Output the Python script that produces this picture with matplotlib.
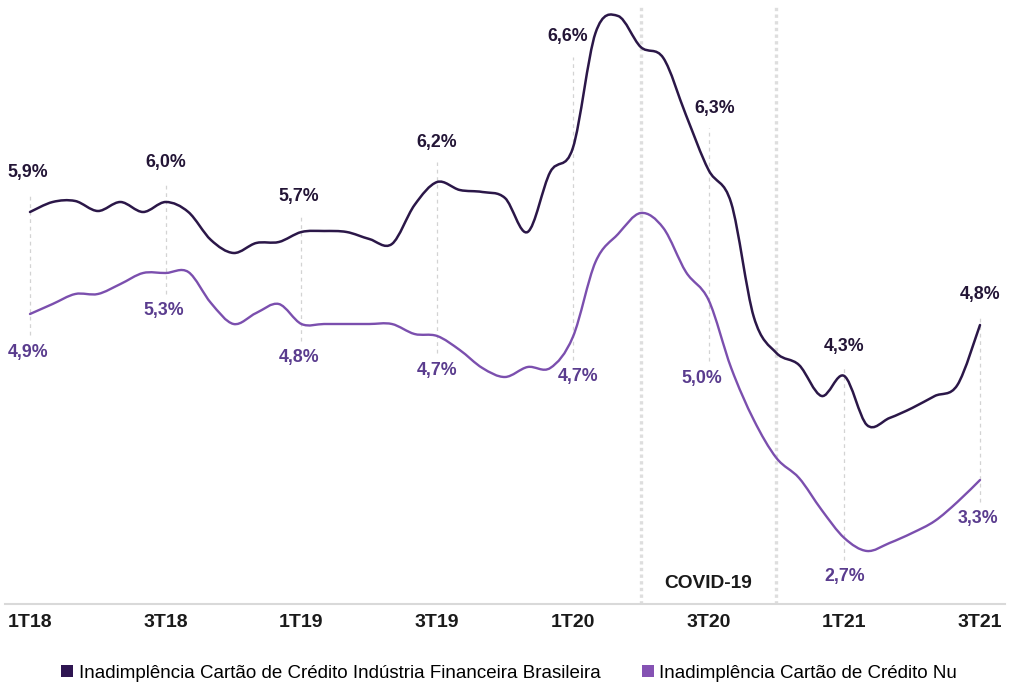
import matplotlib
matplotlib.use("Agg")
import matplotlib.pyplot as plt
from matplotlib.path import Path
from matplotlib.patches import PathPatch, Patch

# monthly series, jan/18 .. jul/21 (%)
industria = [5.90, 6.00, 6.01, 5.91, 6.00, 5.90, 6.00, 5.90, 5.62, 5.49,
             5.59, 5.60, 5.70, 5.71, 5.70, 5.63, 5.58, 5.97, 6.20, 6.12,
             6.10, 6.04, 5.70, 6.30, 6.54, 7.69, 7.86, 7.55, 7.44, 6.87,
             6.32, 5.99, 4.85, 4.49, 4.37, 4.06, 4.26, 3.77, 3.84, 3.94,
             4.06, 4.17, 4.77]
nu = [4.88, 4.98, 5.08, 5.08, 5.18, 5.29, 5.29, 5.30, 4.99, 4.78,
      4.89, 4.98, 4.78, 4.78, 4.78, 4.78, 4.78, 4.68, 4.66, 4.52,
      4.34, 4.25, 4.35, 4.34, 4.65, 5.40, 5.68, 5.89, 5.74, 5.30,
      5.02, 4.34, 3.82, 3.44, 3.24, 2.92, 2.64, 2.51, 2.59, 2.69,
      2.81, 3.00, 3.22]

quarters = ['1T18', '3T18', '1T19', '3T19', '1T20', '3T20', '1T21', '3T21']
labels_industria = ['5,9%', '6,0%', '5,7%', '6,2%', '6,6%', '6,3%', '4,3%', '4,8%']
labels_nu = ['4,9%', '5,3%', '4,8%', '4,7%', '4,7%', '5,0%', '2,7%', '3,3%']
covid_start, covid_end = 27, 33  # months

# label placement (layout only)
lab_y_ind = [6.29, 6.39, 6.06, 6.60, 7.65, 6.94, 4.56, 5.07]
lab_dx_ind = [-0.1, 0, -0.1, 0, -0.22, 0.27, 0, 0]
lab_y_nu = [4.50, 4.91, 4.44, 4.32, 4.25, 4.24, 2.25, 2.83]
lab_dx_nu = [-0.1, -0.1, -0.1, 0, 0.22, -0.3, 0, -0.1]

DARK = '#2b1748'
PURPLE = '#7b4fae'
DARK_TXT = '#231536'
PURPLE_TXT = '#5a3c8e'

plt.rcParams['font.family'] = ['Liberation Sans', 'DejaVu Sans']


def smooth_path(xs, ys):
    # catmull-rom through the points, drawn as cubic beziers
    pts = list(zip(xs, ys))
    verts = [pts[0]]
    codes = [Path.MOVETO]
    n = len(pts)
    for i in range(n - 1):
        p0 = pts[i - 1] if i > 0 else pts[i]
        p1 = pts[i]
        p2 = pts[i + 1]
        p3 = pts[i + 2] if i + 2 < n else pts[i + 1]
        c1 = (p1[0] + (p2[0] - p0[0]) / 6, p1[1] + (p2[1] - p0[1]) / 6)
        c2 = (p2[0] - (p3[0] - p1[0]) / 6, p2[1] - (p3[1] - p1[1]) / 6)
        verts += [c1, c2, p2]
        codes += [Path.CURVE4] * 3
    return Path(verts, codes)


fig = plt.figure(figsize=(10.1, 6.83), dpi=100)
ax = fig.add_axes([5 / 1010, 79 / 683, 1000 / 1010, 599 / 683])

months = list(range(len(industria)))
tick_pos = months[::6]

ax.add_patch(PathPatch(smooth_path(months, industria), fill=False,
                       edgecolor=DARK, lw=1.8, capstyle='round', zorder=3))
ax.add_patch(PathPatch(smooth_path(months, nu), fill=False,
                       edgecolor=PURPLE, lw=1.7, capstyle='round', zorder=3))

# covid band limits
for m in (covid_start, covid_end):
    ax.axvline(m, color='#dedede', lw=2.4, ls=(0, (1.0, 1.0)), zorder=1)
ax.text((covid_start + covid_end) / 2, 2.19, 'COVID-19', ha='center', va='center',
        fontsize=13.8, fontweight='bold', color='#1a1a1a')

# quarter guides + data labels
for i, m in enumerate(tick_pos):
    ax.vlines(m, lab_y_nu[i] + 0.17, lab_y_ind[i] - 0.20, color='#d3d3d3',
              lw=0.9, linestyles=(0, (3, 3)), zorder=1)
    ax.text(m + lab_dx_ind[i], lab_y_ind[i], labels_industria[i], ha='center',
            va='center', fontsize=12.8, fontweight='bold', color=DARK_TXT)
    ax.text(m + lab_dx_nu[i], lab_y_nu[i], labels_nu[i], ha='center',
            va='center', fontsize=12.8, fontweight='bold', color=PURPLE_TXT)

ax.set_xlim(-1.105, 43.105)
ax.set_ylim(1.98, 7.97)
ax.set_xticks(tick_pos)
ax.set_xticklabels(quarters, fontsize=14, fontweight='bold', color='#1a1a1a')
ax.set_yticks([])
ax.tick_params(axis='x', length=0, pad=7)
for s in ['top', 'right', 'left']:
    ax.spines[s].set_visible(False)
ax.spines['bottom'].set_color('#d9d9d9')
ax.spines['bottom'].set_linewidth(1.5)

handles = [Patch(facecolor='#2e1551', edgecolor='none'),
           Patch(facecolor='#8552b3', edgecolor='none')]
fig.legend(handles,
           ['Inadimplência Cartão de Crédito Indústria Financeira Brasileira',
            'Inadimplência Cartão de Crédito Nu'],
           loc='center', bbox_to_anchor=(509 / 1010, 10 / 683), ncol=2,
           frameon=False, fontsize=13.5, handlelength=0.65, handleheight=0.65,
           handletextpad=0.3, columnspacing=2.2, borderpad=0, borderaxespad=0)

fig.savefig('out.png', dpi=100)
